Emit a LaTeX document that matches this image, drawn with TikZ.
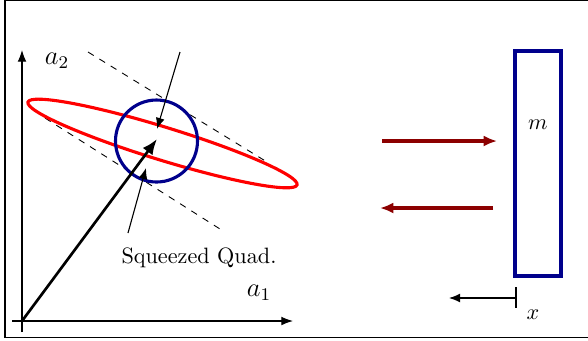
\documentclass[tikz,border=0pt]{standalone}
\usepackage{amsmath}
\usepackage{tikz}
\usetikzlibrary{arrows.meta,positioning}

\begin{document}
\begin{tikzpicture}[
    x=0.45pt,y=-0.45pt,
    >=Latex,
    axis/.style={->,line width=0.5pt},
    guide/.style={dashed,line width=0.4pt},
    pointer/.style={->,line width=0.5pt,>={Latex[length=5pt,width=4pt]}},
    beam/.style={->,line width=1.4pt,draw=red!55!black,>={Latex[length=6pt,width=5pt]}},
    label/.style={inner sep=1pt}
  ]
    \useasboundingbox (0,0) rectangle (588,340);
    \draw[line width=0.6pt] (5,0.8) rectangle (600,337.5);

    % phase space
    \coordinate (origin) at (22,321);
    \coordinate (xend) at (293,321);
    \coordinate (xstart) at (12,321);
    \coordinate (yend) at (22,50);
    \coordinate (ystart) at (22,332);
    \draw[axis] (xstart) -- (xend);
    \draw[axis] (ystart) -- (yend);
    \node[label] (atwo) at (57,61) {\large$a_2$};
    \node[label] (aone) at (259,293) {\large$a_1$};

    \coordinate (sq) at (162.5,143.5);
    \coordinate (coh) at (156.5,141);
    \coordinate (tip) at (157,139);

    \draw[guide] (88,52) -- (267,162);
    \draw[guide] (45,118) -- (220,229);

    \draw[red,line width=1.4pt,rotate around={-17.1:(sq)}] (sq) ellipse [x radius=140.8,y radius=16.5];
    \draw[blue!55!black,line width=1.4pt] (coh) circle [radius=41];

    \draw[->,line width=1.2pt,>={Latex[length=7pt,width=5.5pt]}] (origin) -- (tip);

    \coordinate (top) at (180,52);
    \coordinate (topend) at (157,129);
    \draw[pointer] (top) -- (topend);

    \node[label] (squeeze) at (199,258) {Squeezed Quad.};
    \coordinate (lowend) at (146,168);
    \draw[pointer] (128,233) -- (lowend);

    % mirror
    \node[draw=blue!55!black,line width=1.5pt,minimum width=46*0.45pt,minimum height=225*0.45pt,inner sep=0pt] (mirror) at (538,163.5) {};
    \node[label] (mass) at (538,125) {$m$};

    \coordinate (inL) at (382,141);
    \coordinate (inR) at (497,141);
    \coordinate (outR) at (493,208);
    \coordinate (outL) at (380,208);
    \draw[beam] (inL) -- (inR);
    \draw[beam] (outR) -- (outL);

    \coordinate (tickA) at (516,287);
    \coordinate (tickB) at (516,308);
    \coordinate (shift) at (449,298);
    \draw[line width=0.5pt] (tickA) -- (tickB);
    \draw[pointer] (516,298) -- (shift);
    \node[label] (xlab) at (533,315) {$x$};
\end{tikzpicture}
\end{document}
